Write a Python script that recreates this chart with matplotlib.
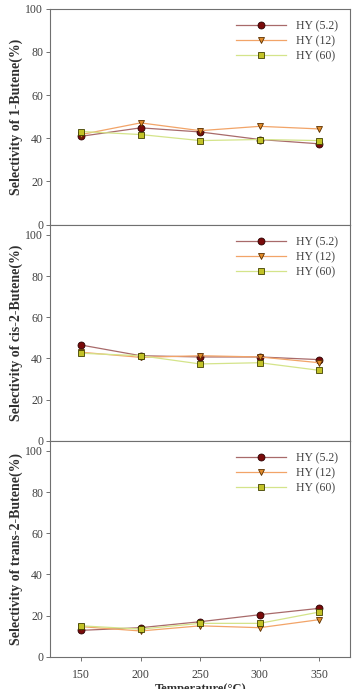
import matplotlib.pyplot as plt

# ====== Data ======
temps = [150, 200, 250, 300, 350]
series_names = ["HY (5.2)", "HY (12)", "HY (60)"]

butene1_52 = [40.9, 44.8, 42.9, 39.4, 37.4]
butene1_12 = [41.7, 47.1, 43.5, 45.5, 44.3]
butene1_60 = [43.1, 41.7, 38.9, 39.4, 38.9]

cis_52 = [46.5, 41.3, 40.7, 40.7, 39.4]
cis_12 = [43.0, 40.5, 41.3, 40.7, 37.9]
cis_60 = [42.5, 41.3, 37.3, 37.9, 34.2]

trans_52 = [12.8, 14.1, 17.0, 20.4, 23.5]
trans_12 = [14.6, 12.5, 15.0, 14.1, 18.0]
trans_60 = [15.0, 13.4, 16.2, 16.2, 21.7]

ylabels = ["Selectivity of 1-Butene(%)",
           "Selectivity of cis-2-Butene(%)",
           "Selectivity of trans-2-Butene(%)"]
yticks = [0, 20, 40, 60, 80, 100]
xticks = [150, 200, 250, 300, 350]

# ====== Styles ======
styles = [
    dict(color="#a86a6a", marker="o", mfc="#7a0a0a", mec="#2a0000"),
    dict(color="#f2a468", marker="v", mfc="#e08a2a", mec="#5a3000"),
    dict(color="#d4e48a", marker="s", mfc="#c2c228", mec="#404000"),
]

plt.rcParams["font.family"] = ["Liberation Serif", "DejaVu Serif"]

fig = plt.figure(figsize=(3.53, 6.89), dpi=100)
left, width, h = 0.142, 0.850, 0.3135
bottoms = [0.674, 0.3604, 0.0469]
ytops = [100, 105, 105]
panels = [
    [butene1_52, butene1_12, butene1_60],
    [cis_52, cis_12, cis_60],
    [trans_52, trans_12, trans_60],
]

for i, data in enumerate(panels):
    ax = fig.add_axes([left, bottoms[i], width, h])
    for vals, name, st in zip(data, series_names, styles):
        ax.plot(temps, vals, color=st["color"], lw=0.9, marker=st["marker"],
                ms=5, mfc=st["mfc"], mec=st["mec"], mew=0.6, label=name)
    ax.set_xlim(124, 376)
    ax.set_ylim(0, ytops[i])
    ax.set_yticks(yticks)
    ax.set_xticks(xticks)
    for s in ax.spines.values():
        s.set_color("#707070")
        s.set_linewidth(0.8)
    ax.tick_params(axis="y", labelsize=8.5, colors="#707070", labelcolor="#404040",
                   length=3, width=0.7, direction="out", pad=2)
    if i == 2:
        ax.tick_params(axis="x", labelsize=8.5, colors="#707070", labelcolor="#404040",
                       length=3, width=0.7, direction="out", pad=6)
    else:
        ax.tick_params(axis="x", bottom=False, labelbottom=False)
    ax.set_ylabel(ylabels[i], fontsize=10, fontweight="bold", color="#303030", labelpad=2)
    leg = ax.legend(loc="upper right", frameon=False, fontsize=8.5, handlelength=4.2,
                    borderaxespad=0.6, labelspacing=0.25, handletextpad=0.9)
    for t in leg.get_texts():
        t.set_color("#404040")

fig.text(left + width / 2, 0.0, "Temperature(\u00b0C)", ha="center", va="center",
         fontsize=9, fontweight="bold", color="#303030")

fig.savefig("out.png", dpi=100)
